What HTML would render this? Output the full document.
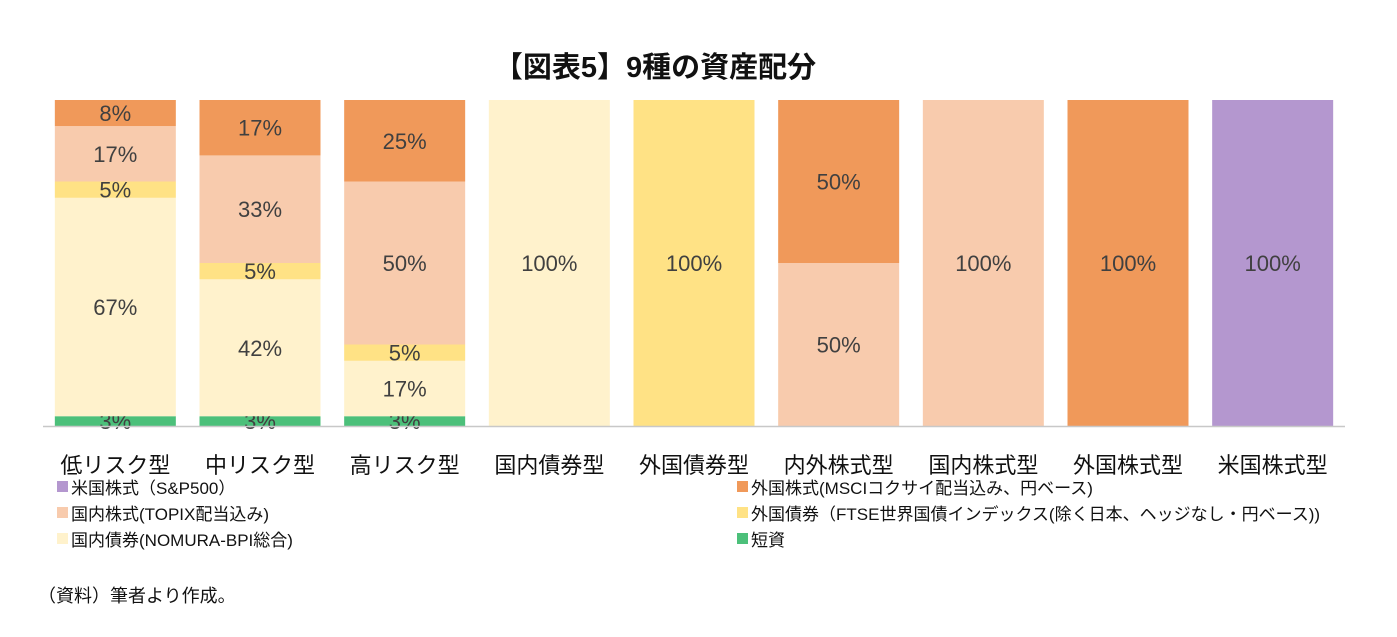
<!DOCTYPE html>
<html><head><meta charset="utf-8"><style>
body{margin:0;background:#fff;}
svg{display:block;font-family:"Liberation Sans","Noto Sans CJK JP",sans-serif;}
</style></head><body>
<svg width="1397" height="637">
<text x="655" y="77" text-anchor="middle" font-size="29" font-weight="bold" fill="#111">【図表5】9種の資産配分</text>
<g id="bars"></g>
<line x1="43" y1="426.5" x2="1345" y2="426.5" stroke="#c8c8c8" stroke-width="1.5"/>
<g id="cats"></g>
<g id="legend"></g>
<text x="38" y="602" font-size="18" fill="#111">（資料）筆者より作成。</text>
</svg>
<script>
const categories=["低リスク型","中リスク型","高リスク型","国内債券型","外国債券型","内外株式型","国内株式型","外国株式型","米国株式型"];
const seriesNames=["短資","国内債券(NOMURA-BPI総合)","外国債券（FTSE世界国債インデックス(除く日本、ヘッジなし・円ベース))","国内株式(TOPIX配当込み)","外国株式(MSCIコクサイ配当込み、円ベース)","米国株式（S&P500）"];
const shortTerm=[3,3,3,0,0,0,0,0,0];
const domBond=[67,42,17,100,0,0,0,0,0];
const forBond=[5,5,5,0,100,0,0,0,0];
const domStock=[17,33,50,0,0,50,100,0,0];
const forStock=[8,17,25,0,0,50,0,100,0];
const usStock=[0,0,0,0,0,0,0,0,100];
const series=[shortTerm,domBond,forBond,domStock,forStock,usStock];
const colors=["#4cc07a","#fff2cc","#ffe285","#f8cbad","#f0995a","#b497cf"];
const keys=["short","dom-bond","for-bond","dom-stock","for-stock","us-stock"];
const NS="http://www.w3.org/2000/svg";
const plotL=43,plotR=1345,plotTop=100,plotBot=426;
const step=(plotR-plotL)/categories.length,bw=121;
const yScale=v=>plotBot-(v/100)*(plotBot-plotTop);
const bars=document.getElementById('bars');
function el(t,a,p){const e=document.createElementNS(NS,t);for(const k in a)e.setAttribute(k,a[k]);p.appendChild(e);return e;}
categories.forEach((c,i)=>{
 const x=plotL+step*i+(step-bw)/2;let cum=0;
 series.forEach((s,j)=>{
  const v=s[i];if(!v)return;
  const r=el('rect',{x:x,y:yScale(cum+v),width:bw,height:yScale(cum)-yScale(cum+v),fill:colors[j]},bars);
  
  
  const t=el('text',{x:x+bw/2,y:(yScale(cum)+yScale(cum+v))/2+8,'text-anchor':'middle','font-size':'22',fill:'#404040'},bars);
  t.textContent=v+'%';
  
  
  cum+=v;
 });
 const ct=el('text',{x:x+bw/2,y:473,'text-anchor':'middle','font-size':'22',fill:'#111'},document.getElementById('cats'));
 ct.textContent=c;
 
 
});
const lg=document.getElementById('legend');
const legendPos=[[5,57,494],[3,57,520],[1,57,546],[4,737,494],[2,737,520],[0,737,546]];
legendPos.forEach(([j,x,yy])=>{
 const g=el('g',{},lg);
 
 
 el('rect',{x:x,y:yy-13,width:11,height:11,fill:colors[j]},g);
 const t=el('text',{x:x+14,y:yy,'font-size':'17',fill:'#111'},g);
 t.textContent=seriesNames[j];
});
</script>
</body></html>
